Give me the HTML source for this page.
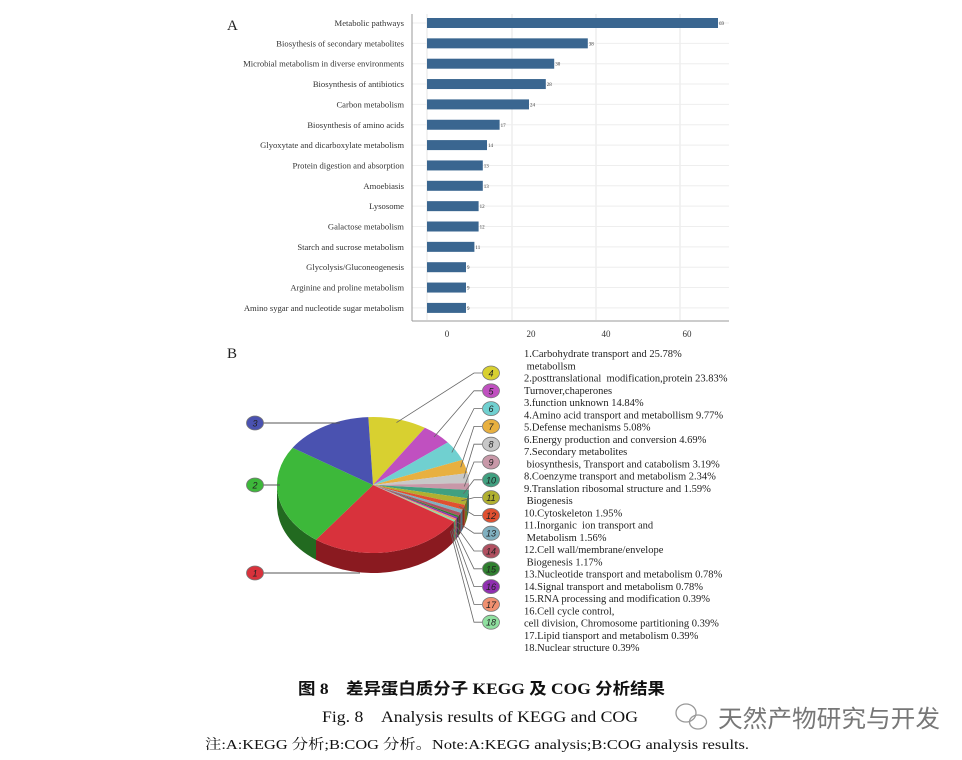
<!DOCTYPE html>
<html><head><meta charset="utf-8"><style>
body{margin:0;background:#fff;width:962px;height:760px;overflow:hidden;}
svg{display:block}
</style></head><body>
<svg id="s" width="962" height="760" xmlns="http://www.w3.org/2000/svg" font-family="'Liberation Serif','Noto Serif CJK SC',serif">
<text x="227" y="30" font-size="15" fill="#222">A</text>
<g stroke="#e6e6e6" stroke-width="1">
<line x1="427" y1="14" x2="427" y2="320"/><line x1="512" y1="14" x2="512" y2="320"/>
<line x1="596" y1="14" x2="596" y2="320"/><line x1="680" y1="14" x2="680" y2="320"/>
</g>
<g id="bars"></g>
<line x1="412" y1="14" x2="412" y2="321" stroke="#999"/>
<line x1="412" y1="321" x2="729" y2="321" stroke="#999"/>
<g font-size="9" fill="#333" text-anchor="middle">
<text x="447" y="337">0</text><text x="531" y="337">20</text><text x="606" y="337">40</text><text x="687" y="337">60</text>
</g>
<text x="227" y="358" font-size="15" fill="#222">B</text>
<g id="pie"></g>
<g id="leg" font-size="10.5" fill="#222"></g>
<text x="298" y="694" font-size="16" textLength="367" lengthAdjust="spacingAndGlyphs" font-weight="bold" fill="#111" font-family="'Liberation Serif','Noto Sans CJK SC',sans-serif">图 8　差异蛋白质分子 KEGG 及 COG 分析结果</text>
<text x="322" y="722" font-size="16" textLength="316" lengthAdjust="spacingAndGlyphs" fill="#111">Fig. 8　Analysis results of KEGG and COG</text>
<text x="205" y="749" font-size="14" textLength="544" lengthAdjust="spacingAndGlyphs" fill="#111">注:A:KEGG 分析;B:COG 分析。Note:A:KEGG analysis;B:COG analysis results.</text>
<g stroke="#999" fill="none" stroke-width="1.3"><ellipse cx="686" cy="713" rx="10" ry="9"/><ellipse cx="698" cy="722" rx="8.5" ry="7"/></g>
<text x="718" y="727" font-size="24" textLength="222" lengthAdjust="spacingAndGlyphs" fill="#777" font-family="'Noto Sans CJK SC',sans-serif">天然产物研究与开发</text>
</svg>
<script>
var NS="http://www.w3.org/2000/svg";
function el(t,a,p,txt){var e=document.createElementNS(NS,t);for(var k in a)e.setAttribute(k,a[k]);if(txt!==undefined)e.textContent=txt;p.appendChild(e);return e;}
var names=["Metabolic pathways","Biosythesis of secondary metabolites","Microbial metabolism in diverse environments","Biosynthesis of antibiotics","Carbon metabolism","Biosynthesis of amino acids","Glyoxytate and dicarboxylate metabolism","Protein digestion and absorption","Amoebiasis","Lysosome","Galactose metabolism","Starch and sucrose metabolism","Glycolysis/Gluconeogenesis","Arginine and proline metabolism","Amino sygar and nucleotide sugar metabolism"];
var vals=[69,38,30,28,24,17,14,13,13,12,12,11,9,9,9];
var g=document.getElementById("bars");
for(var i=0;i<15;i++){var y=23+i*20.35;
el("line",{x1:412,x2:729,y1:y,y2:y,stroke:"#eeeeee"},g);
var w=vals[i]*4.2+1.2;
el("rect",{x:427,y:y-5,width:w,height:10,fill:"#3a6690"},g);
el("text",{x:427+w+1,y:y+2,"font-size":5,fill:"#333"},g,vals[i]);
el("text",{x:404,y:y+3,"font-size":8.6,fill:"#333","text-anchor":"end"},g,names[i]);}
var pct=[25.78,23.83,14.84,9.77,5.08,4.69,3.19,2.34,1.59,1.95,1.56,1.17,0.78,0.78,0.39,0.39,0.39,0.39];
var cols=["#d8323c","#3db83a","#4a52b0","#d8d030","#c050c0","#70d0d0","#e8b040","#c8c8c8","#c898a8","#40a080","#b0b030","#e05030","#80b0c0","#b05060","#308030","#9030b0","#f09070","#90e0a0"];
var dark=["#8a1a20","#226a20","#2a2f70","#8a8420","#7a2a7a","#408080","#906a20","#808080","#806070","#206050","#707020","#902a18","#507080","#702838","#1a501a","#5a1a70","#a05840","#50906a"];
var cx=373,cy=485,rx=96,ry=68,dep=20;
var tot=pct.reduce(function(a,b){return a+b},0);
var order=[3,4,5,6,7,8,9,10,11,12,13,14,15,16,17,0,1,2];
var a=-1.62,ang={};
order.forEach(function(k){var d=pct[k]/tot*2*Math.PI;ang[k]=[a,a+d];a+=d;});
var p=document.getElementById("pie");
function pt(t,dy){return (cx+rx*Math.cos(t)).toFixed(1)+","+(cy+ry*Math.sin(t)+(dy||0)).toFixed(1);}
order.forEach(function(k){var s=Math.max(ang[k][0],0),e=Math.min(ang[k][1],Math.PI);
 if(e<=s)return;var d="M"+pt(s)+" A"+rx+","+ry+" 0 0 1 "+pt(e)+" L"+pt(e,dep)+" A"+rx+","+ry+" 0 0 0 "+pt(s,dep)+"Z";
 el("path",{d:d,fill:dark[k]},p);});
order.forEach(function(k){var s=ang[k][0],e=ang[k][1];var lg=(e-s)>Math.PI?1:0;
 el("path",{d:"M"+cx+","+cy+" L"+pt(s)+" A"+rx+","+ry+" 0 "+lg+" 1 "+pt(e)+"Z",fill:cols[k]},p);});
function badge(x,y,k){el("ellipse",{cx:x,cy:y,rx:8.5,ry:7,fill:cols[k],stroke:"#777","stroke-width":0.8},p);
 el("text",{x:x,y:y+3.5,"font-size":9,"font-style":"italic","font-family":"Liberation Sans,sans-serif","text-anchor":"middle",fill:"#222"},p,k+1);}
el("polyline",{points:"263,423 340,423",stroke:"#555",fill:"none"},p);badge(255,423,2);
el("polyline",{points:"263,485 280,485",stroke:"#555",fill:"none"},p);badge(255,485,1);
el("polyline",{points:"263,573 360,573",stroke:"#555",fill:"none"},p);badge(255,573,0);
for(var k=3;k<18;k++){var by=373+(k-3)*17.8;var m=(ang[k][0]+ang[k][1])/2;
 var sx=cx+rx*0.95*Math.cos(m),sy=cy+ry*0.95*Math.sin(m)+(k>11?dep*0.6:0);
 el("polyline",{points:sx.toFixed(1)+","+sy.toFixed(1)+" "+(474)+","+by+" 482,"+by,stroke:"#666",fill:"none","stroke-width":0.8},p);
 badge(491,by,k);}
var L=["1.Carbohydrate transport and 25.78%"," metabollsm","2.posttranslational  modification,protein 23.83%","Turnover,chaperones","3.function unknown 14.84%","4.Amino acid transport and metabollism 9.77%","5.Defense mechanisms 5.08%","6.Energy production and conversion 4.69%","7.Secondary metabolites"," biosynthesis, Transport and catabolism 3.19%","8.Coenzyme transport and metabolism 2.34%","9.Translation ribosomal structure and 1.59%"," Biogenesis","10.Cytoskeleton 1.95%","11.Inorganic  ion transport and"," Metabolism 1.56%","12.Cell wall/membrane/envelope"," Biogenesis 1.17%","13.Nucleotide transport and metabolism 0.78%","14.Signal transport and metabolism 0.78%","15.RNA processing and modification 0.39%","16.Cell cycle control,","cell division, Chromosome partitioning 0.39%","17.Lipid tiansport and metabolism 0.39%","18.Nuclear structure 0.39%"];
var lg=document.getElementById("leg");
L.forEach(function(t,i){var e=el("text",{x:524,y:357+i*12.25},lg,t);e.setAttribute("xml:space","preserve");e.style.whiteSpace="pre";});
</script>
</body></html>
